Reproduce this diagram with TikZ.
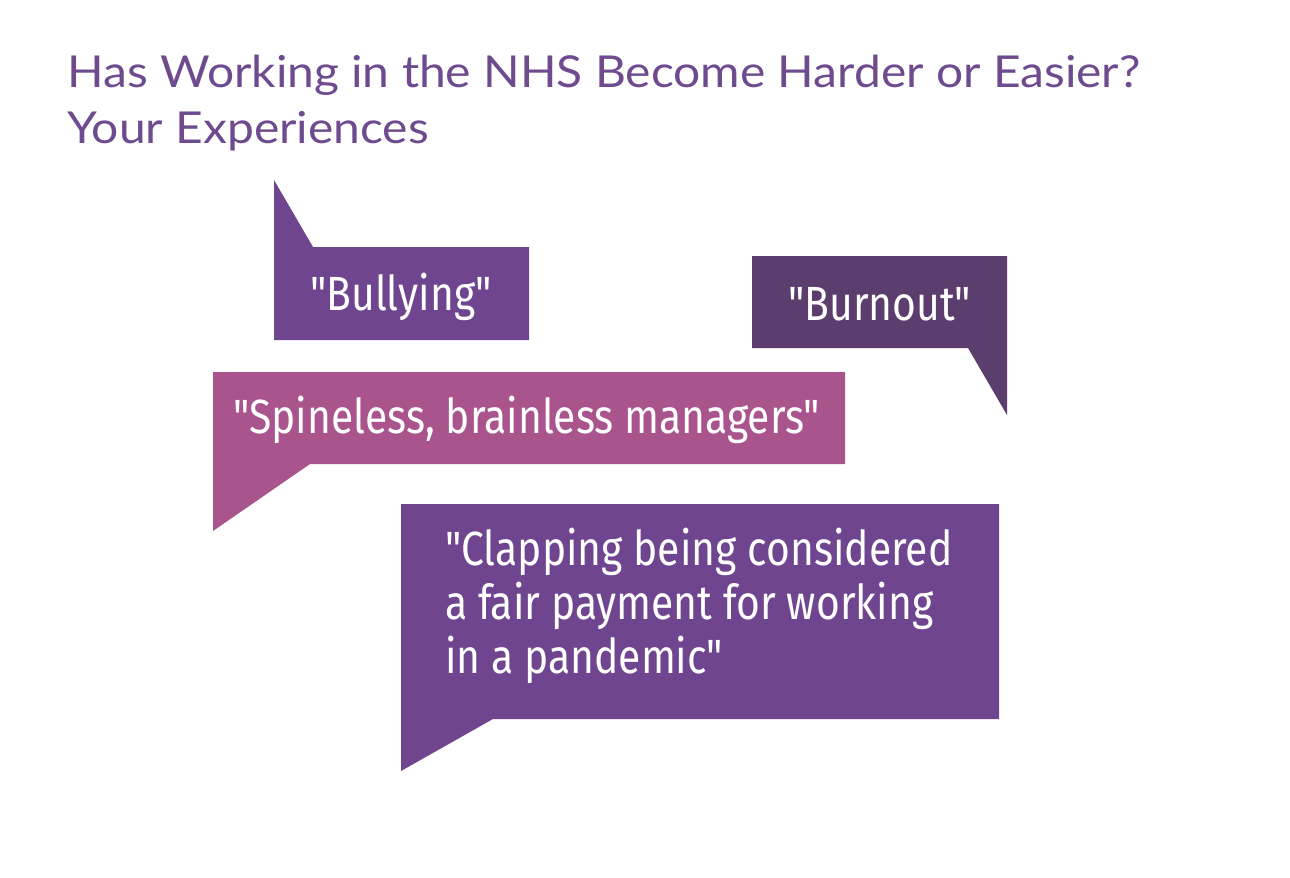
\documentclass[tikz,border=0pt]{standalone}
\usepackage{fontspec}
\setmainfont[FakeStretch=1.09]{Lato}
\newfontfamily\condfont[FakeStretch=0.85]{Fira Sans}
\definecolor{titlepurple}{HTML}{6E4A8E}
\definecolor{bubblepurple}{HTML}{6F4590}
\definecolor{bubbledark}{HTML}{5B3E6E}
\definecolor{bubblepink}{HTML}{AA548E}
\tikzset{
  quote/.style={text=white, font=\condfont\fontsize{48bp}{54bp}\selectfont, inner sep=0pt, anchor=base west, align=left},
  titletext/.style={text=titlepurple, font=\fontsize{44bp}{56bp}\selectfont, inner sep=0pt, anchor=base west}
}
\begin{document}
\begin{tikzpicture}[x=1bp,y=-1bp]
\useasboundingbox[fill=white] (0,0) rectangle (1290,878);
% title
\node[titletext] (t1) at (67,87) {Has Working in the NHS Become Harder or Easier?};
\node[titletext] (t2) at (67,143) {Your Experiences};
% bubbles
\fill[bubblepurple] (274,180) -- (313,247) -- (529,247) -- (529,340) -- (274,340) -- cycle;
\fill[bubbledark] (752,256) -- (1007,256) -- (1007,415) -- (968,348) -- (752,348) -- cycle;
\fill[bubblepink] (213,372) -- (845,372) -- (845,464) -- (310,464) -- (213,531) -- cycle;
\fill[bubblepurple] (401,504) -- (999,504) -- (999,719) -- (493,719) -- (401,771) -- cycle;
% texts
\node[quote] (q1) at (310,310) {"Bullying"};
\node[quote] (q2) at (788,320) {"Burnout"};
\node[quote] (q3) at (233,433) {"Spineless, brainless managers"};
\node[quote] (q4a) at (445,565) {"Clapping being considered};
\node[quote] (q4b) at (445,619) {a fair payment for working};
\node[quote] (q4c) at (445,673) {in a pandemic"};
\end{tikzpicture}
\end{document}
